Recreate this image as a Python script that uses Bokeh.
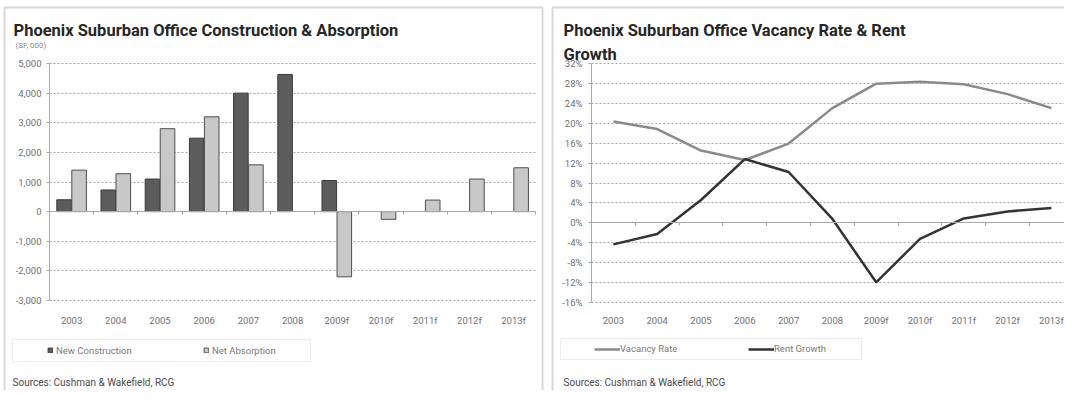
import numpy as np
from bokeh.plotting import figure
from bokeh.models import (Range1d, FixedTicker, NumeralTickFormatter, PrintfTickFormatter,
                          Label, Legend, LegendItem, BoxAnnotation, ColumnDataSource,
                          LinearAxis, Grid)
from bokeh.transform import dodge
from bokeh.layouts import row
from bokeh.embed import file_html
from bokeh.resources import INLINE

# ---------------- data ----------------
years = ["2003", "2004", "2005", "2006", "2007", "2008",
         "2009f", "2010f", "2011f", "2012f", "2013f"]
new_construction = [400, 730, 1100, 2480, 4000, 4630, 1050, np.nan, np.nan, np.nan, np.nan]
net_absorption = [1400, 1280, 2800, 3200, 1580, np.nan, -2200, -260, 390, 1100, 1480]
vacancy_rate = [20.3, 18.8, 14.5, 12.6, 15.9, 23.0, 27.9, 28.3, 27.8, 25.8, 23.0]
rent_growth = [-4.3, -2.2, 4.6, 12.8, 10.2, 0.8, -11.9, -3.2, 0.9, 2.3, 3.0]
bar_ticks = [-3000, -2000, -1000, 0, 1000, 2000, 3000, 4000, 5000]
pct_ticks = [-16, -12, -8, -4, 0, 4, 8, 12, 16, 20, 24, 28, 32]

title_left = "Phoenix Suburban Office Construction & Absorption"
title_right_1 = "Phoenix Suburban Office Vacancy Rate & Rent"
title_right_2 = "Growth"
unit_label = "(SF, 000)"
source_text = "Sources: Cushman & Wakefield, RCG"
legend_left = ["New Construction", "Net Absorption"]
legend_right = ["Vacancy Rate", "Rent Growth"]

FONT = "Roboto"
TICK_COLOR = "#707070"
AXIS_COLOR = "#a8a8a8"
GRID_COLOR = "#a4a4a4"
TITLE_COLOR = "#262626"
H = 390
PAGE_TOP = 0  # reference y of canvas top


def sy(ref_y):
    """reference-pixel y -> screen units (from canvas bottom, upward)"""
    return (PAGE_TOP + H) - ref_y


def make_panel(width, page_left, axis_ref_x, cat_px, y_lo, y_hi, ref_lo, ref_hi):
    """Figure whose frame is the whole canvas; axes are placed at fixed locations."""
    px_per_unit = (ref_lo - ref_hi) / (y_hi - y_lo)
    x0 = -(axis_ref_x - page_left) / cat_px
    x1 = (page_left + width - axis_ref_x) / cat_px
    ytop = y_hi + (ref_hi - PAGE_TOP) / px_per_unit
    ybot = y_lo - (PAGE_TOP + H - ref_lo) / px_per_unit
    p = figure(width=width, height=H, x_range=Range1d(x0, x1), y_range=Range1d(ybot, ytop),
               output_backend="svg", toolbar_location=None, title=None,
               x_axis_location=None, y_axis_location=None,
               min_border_left=0, min_border_right=0, min_border_top=0, min_border_bottom=0)
    p.center = [r for r in p.center if not isinstance(r, Grid)]
    p.outline_line_color = None
    p.background_fill_color = "white"
    p.border_fill_color = "white"
    return p


def add_grid(p, ticks, xb):
    try:
        g = Grid(dimension=1, ticker=FixedTicker(ticks=ticks), cross_bounds=xb,
                 grid_line_color=GRID_COLOR, grid_line_dash="2 2", grid_line_width=1)
        p.add_layout(g)
    except AttributeError:
        p.segment(x0=xb[0], x1=xb[1], y0=ticks, y1=ticks, line_color=GRID_COLOR,
                  line_dash="2 2", line_width=1, level="underlay")


def add_axes(p, ticks, formatter, n, y_lo, xb_right, label_standoff, ystand):
    yax = LinearAxis(fixed_location=0, bounds=(y_lo, ticks[-1]),
                     ticker=FixedTicker(ticks=ticks), formatter=formatter,
                     axis_line_color=AXIS_COLOR, major_tick_line_color=AXIS_COLOR,
                     major_tick_out=3, major_tick_in=0, minor_tick_line_color=None,
                     major_label_text_font=FONT, major_label_text_font_size="9.5px",
                     major_label_text_color=TICK_COLOR, major_label_standoff=ystand)
    p.add_layout(yax, "left")
    xpos = [i + 0.5 for i in range(n)]
    xax = LinearAxis(fixed_location=y_lo, ticker=FixedTicker(ticks=xpos),
                     major_label_overrides={x: lab for x, lab in zip(xpos, years)},
                     axis_line_color=None, major_tick_line_color=None,
                     minor_tick_line_color=None, major_label_text_font=FONT,
                     major_label_text_font_size="9.5px", major_label_text_color=TICK_COLOR,
                     major_label_standoff=label_standoff)
    p.add_layout(xax, "below")
    bnds = [float(i) for i in range(n + 1) if i <= xb_right]
    zax = LinearAxis(fixed_location=0, bounds=(0, xb_right), ticker=FixedTicker(ticks=bnds),
                     major_label_overrides={b: "" for b in bnds},
                     axis_line_color=AXIS_COLOR, major_tick_line_color=AXIS_COLOR,
                     major_tick_out=3, major_tick_in=0, minor_tick_line_color=None,
                     major_label_text_font_size="1px")
    p.add_layout(zax, "below")


def add_texts(p, page_left, items):
    for txt, rx, ry, size, bold, color in items:
        p.add_layout(Label(x=rx - page_left, y=sy(ry), x_units="screen", y_units="screen",
                           text=txt, text_font=FONT, text_font_size=size,
                           text_font_style="bold" if bold else "normal",
                           text_color=color, text_baseline="alphabetic"))


def add_box(p, page_left, l, r, t, b, color, lw):
    p.add_layout(BoxAnnotation(left=l - page_left, right=r - page_left, top=sy(t), bottom=sy(b),
                               left_units="screen", right_units="screen",
                               top_units="screen", bottom_units="screen",
                               fill_alpha=0, line_color=color, line_width=lw, level="overlay"))


# ---------------- left panel ----------------
W1, PL1 = 546, 0
n = len(years)
p1 = make_panel(W1, PL1, axis_ref_x=49, cat_px=44.2, y_lo=-3000, y_hi=5000,
                ref_lo=300, ref_hi=63)
add_grid(p1, bar_ticks, (0, n))
src = ColumnDataSource(dict(x=[i + 0.5 for i in range(n)], nc=new_construction,
                            na=net_absorption))
r_nc = p1.vbar(x=dodge("x", -0.17), top="nc", width=0.33, source=src,
               fill_color="#5c5c5c", line_color="#3a3a3a", line_width=1)
r_na = p1.vbar(x=dodge("x", 0.17), top="na", width=0.33, source=src,
               fill_color="#c8c8c8", line_color="#4e4e4e", line_width=1)
add_axes(p1, bar_ticks, NumeralTickFormatter(format="0,0"), n, -3000, n, 8, 5)

add_texts(p1, PL1, [
    (title_left, 13, 29.5, "16.5px", True, TITLE_COLOR),
    (unit_label, 15, 45, "8px", False, "#8a8a8a"),
    (source_text, 12, 382, "10px", False, "#4a4a4a"),
])
add_box(p1, PL1, 12, 310, 339, 361, "#c4c4c4", 1)
add_box(p1, PL1, 4, 542, 7, 420, "#7e7e7e", 2)
leg1 = Legend(items=[LegendItem(label=legend_left[0], renderers=[r_nc]),
                     LegendItem(label=legend_left[1], renderers=[r_na])],
              orientation="horizontal", location=(47 - PL1, sy(356)),
              glyph_width=6, glyph_height=6, label_standoff=3, label_width=140, spacing=7,
              padding=0, margin=0, border_line_color=None, background_fill_alpha=0,
              label_height=12, label_text_font=FONT, label_text_font_size="9.5px",
              label_text_color="#7a7a7a")
p1.add_layout(leg1)

# ---------------- right panel ----------------
W2, PL2 = 518, 546
AX2 = 591
cat2 = 43.8
p2 = make_panel(W2, PL2, axis_ref_x=AX2, cat_px=cat2, y_lo=-16, y_hi=32,
                ref_lo=302.3, ref_hi=62.7)
x_right = (PL2 + W2 - AX2) / cat2
add_grid(p2, pct_ticks, (0, x_right))
lsrc = ColumnDataSource(dict(x=[i + 0.5 for i in range(n)], vac=vacancy_rate,
                             rent=rent_growth))
r_vac = p2.line(x="x", y="vac", source=lsrc, line_color="#8a8a8a", line_width=2.5)
r_rent = p2.line(x="x", y="rent", source=lsrc, line_color="#333333", line_width=2.5)
add_axes(p2, pct_ticks, PrintfTickFormatter(format="%d%%"), n, -16, x_right, 6, 6)

add_texts(p2, PL2, [
    (title_right_1, 563, 29.5, "16.5px", True, TITLE_COLOR),
    (title_right_2, 563, 53.5, "16.5px", True, TITLE_COLOR),
    (source_text, 563, 382, "10px", False, "#4a4a4a"),
])
add_box(p2, PL2, 560, 861, 338, 359, "#c4c4c4", 1)
add_box(p2, PL2, 552, 1090, 7, 420, "#7e7e7e", 2)
leg2 = Legend(items=[LegendItem(label=legend_right[0], renderers=[r_vac]),
                     LegendItem(label=legend_right[1], renderers=[r_rent])],
              orientation="horizontal", location=(594 - PL2, sy(354.5)),
              glyph_width=26, glyph_height=10, label_standoff=0, label_width=120, spacing=8,
              padding=0, margin=0, border_line_color=None, background_fill_alpha=0,
              label_height=12, label_text_font=FONT, label_text_font_size="9.5px",
              label_text_color="#7a7a7a")
p2.add_layout(leg2)

layout = row(p1, p2)
open("out.html", "w").write(file_html(layout, INLINE))
